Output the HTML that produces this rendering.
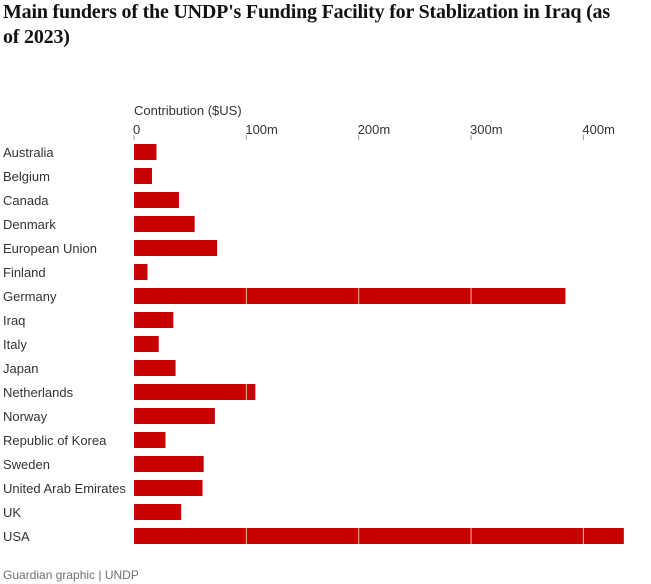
<!DOCTYPE html>
<html><head><meta charset="utf-8"><style>
body{margin:0;background:#fff;width:651px;height:584px;overflow:hidden;font-family:"Liberation Sans",sans-serif}
h1{position:absolute;left:3px;top:0;margin:0;font:bold 20px/25px "Liberation Serif",serif;color:#121212;width:645px;letter-spacing:-0.2px;white-space:nowrap}
</style></head><body>
<h1>Main funders of the UNDP's Funding Facility for Stablization in Iraq (as<br>of 2023)</h1>
<svg id="c" width="651" height="584" style="position:absolute;left:0;top:0">
<text x="134" y="115" font-size="13" fill="#333">Contribution ($US)</text>
<text x="3" y="579" font-size="12" fill="#707070">Guardian graphic | UNDP</text>
</svg>
<script>
const categories=["Australia","Belgium","Canada","Denmark","European Union","Finland","Germany","Iraq","Italy","Japan","Netherlands","Norway","Republic of Korea","Sweden","United Arab Emirates","UK","USA"];
const values=[20,16,40,54,74,12,384,35,22,37,108,72,28,62,61,42,436];
const ticks=[0,100,200,300,400];
const tickLabels=["0","100m","200m","300m","400m"];
const svg=document.getElementById('c');const NS="http://www.w3.org/2000/svg";
const x=v=>134+v*1.1235;
const y=i=>144+i*24;
function mk(t,a){const e=document.createElementNS(NS,t);for(const k in a)e.setAttribute(k,a[k]);svg.appendChild(e);return e;}
ticks.forEach((t,i)=>{
 const l=mk('line',{x1:x(t),x2:x(t),y1:135,y2:140,stroke:'#999'});
 
 
 const tx=mk('text',{x:x(t)-1,y:134,'font-size':13,fill:'#333'});tx.textContent=tickLabels[i];
 
 
});
categories.forEach((c,i)=>{
 const tx=mk('text',{x:3,y:y(i)+13,'font-size':13,fill:'#333'});tx.textContent=c;
 
 
 const r=mk('rect',{x:x(0),y:y(i),width:x(values[i])-x(0),height:16,fill:'#c70000'});
 
 
 ticks.slice(1).forEach(t=>{if(values[i]>t){const g=mk('line',{x1:x(t),x2:x(t),y1:y(i),y2:y(i)+16,stroke:'#fff','stroke-width':1,'stroke-opacity':0.7});
  
  }});
});
</script>
</body></html>
